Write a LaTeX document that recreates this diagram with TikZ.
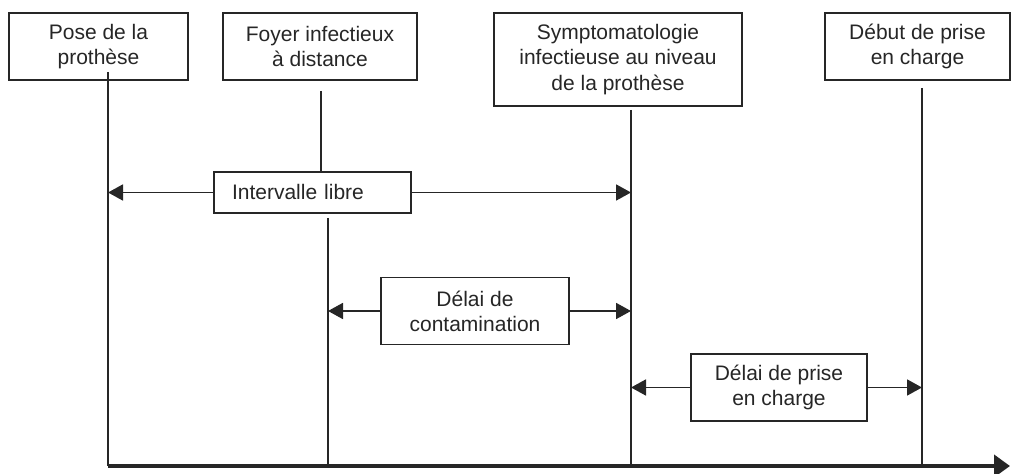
\documentclass[tikz,border=0pt]{standalone}
\usepackage{fontspec}
\setmainfont{Liberation Sans}
\usetikzlibrary{arrows.meta}

\begin{document}
\begin{tikzpicture}[x=0.5pt, y=-0.5pt,
                    line width=0.9pt,
                    color=black!85,
                    font=\fontsize{10.5}{12.6}\selectfont,
                    >={Triangle[length=7.5pt,width=8pt]},
                    nev/.style={rectangle,draw,align=center,minimum height=33.5pt,inner sep=0pt},
                    ndl/.style={rectangle,draw,fill=white,align=center,minimum height=33.5pt,inner sep=0pt}
                    ]
  \useasboundingbox (0,0) rectangle (1011,474);
  % events
  \node[nev, minimum width=89.5pt] (pose) at (98.5,46.5) {Pose de la\\prothèse};
  \node[nev, minimum width=97pt] (foyer) at (320,46.5) {Foyer infectieux\\à distance};
  \node[nev, minimum width=124pt, minimum height=46.5pt] (sympt) at (618,59.5) {Symptomatologie\\infectieuse au niveau\\de la prothèse};
  \node[nev, minimum width=92.5pt] (debut) at (917.5,46.5) {Début de prise\\en charge};
  % delays
  \node[ndl, align=left, text width=80.5pt, inner xsep=9pt, minimum height=20.5pt] (libre) at (312.5,192.5) {Intervalle libre};
  \node[ndl, minimum width=94pt] (conta) at (475,311) {Délai de\\contamination};
  \node[ndl, minimum width=88pt] (prise) at (779,387.5) {Délai de prise\\en charge};
  % time lines
  \coordinate (t1) at (108,72);
  \coordinate (t2) at (321,91);
  \coordinate (t2b) at (328,218);
  \coordinate (t3) at (631,110);
  \coordinate (t4) at (922,88);
  \coordinate (a1) at (108,466);
  \coordinate (a2) at (328,466);
  \coordinate (a3) at (631,466);
  \coordinate (a4) at (922,466);
  \coordinate (fin) at (1010,466);
  \draw (t1) -- (a1);
  \draw (t2) -- (t2 |- libre.north);
  \draw (t2b) -- (a2);
  \draw (t3) -- (a3);
  \draw (t4) -- (a4);
  \draw [->] (libre.west) -- (libre.west -| a1);
  \draw [->] (libre.east) -- (libre.east -| a3);
  \draw [->] (conta.west) -- (conta.west -| a2);
  \draw [->] (conta.east) -- (conta.east -| a3);
  \draw [->] (prise.west) -- (prise.west -| a3);
  \draw [->] (prise.east) -- (prise.east -| a4);
  \draw [->, line width=2.2pt, >={Triangle[length=8pt,width=11pt]}] (a1) -- (fin);
\end{tikzpicture}
\end{document}
